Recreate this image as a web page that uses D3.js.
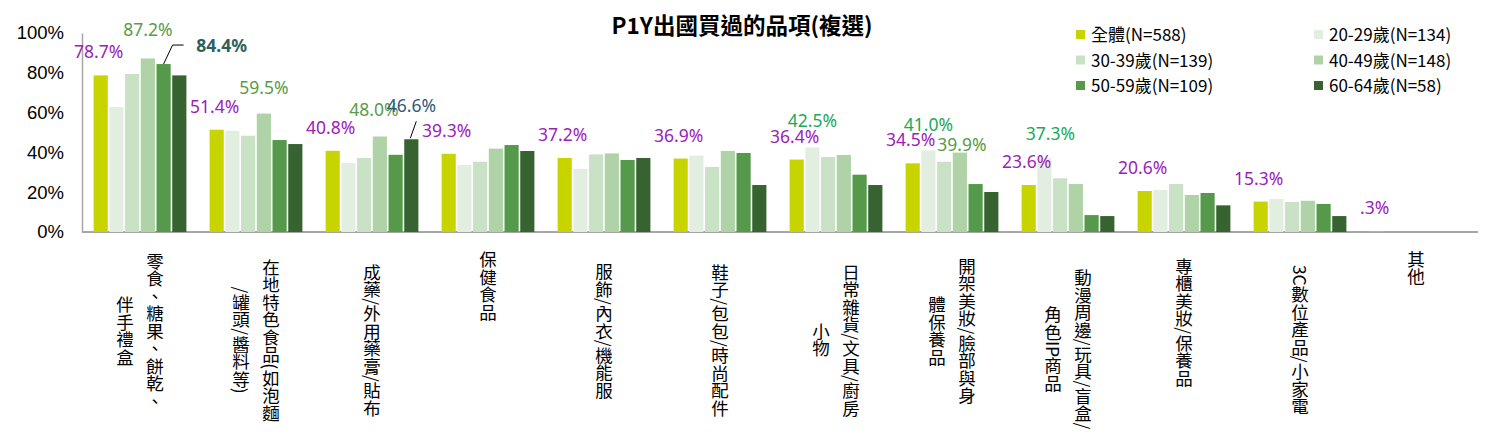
<!DOCTYPE html>
<html><head><meta charset="utf-8">
<script src="https://cdn.jsdelivr.net/npm/d3@7"></script>
<style>body{margin:0;background:#fff}</style>
</head><body><svg id="c" width="1507" height="437"></svg>
<script>
const categories = [
  ["零食、糖果、餅乾、","伴手禮盒"],
  ["在地特色食品(如泡麵","/罐頭/醬料等)"],
  ["成藥/外用藥膏/貼布"],
  ["保健食品"],
  ["服飾/內衣/機能服"],
  ["鞋子/包包/時尚配件"],
  ["日常雜貨/文具/廚房","小物"],
  ["開架美妝/臉部與身","體保養品"],
  ["動漫周邊/玩具/盲盒/","角色IP商品"],
  ["專櫃美妝/保養品"],
  ["3C數位產品/小家電"],
  ["其他"]
];
const seriesNames = ["全體(N=588)","20-29歲(N=134)","30-39歲(N=139)","40-49歲(N=148)","50-59歲(N=109)","60-64歲(N=58)"];
const sAll   = [78.7,51.4,40.8,39.3,37.2,36.9,36.4,34.5,23.6,20.6,15.3,0.3];
const s2029  = [62.8,50.9,34.7,33.7,31.7,38.4,42.5,41.0,37.3,21.1,16.6,0];
const s3039  = [79.4,48.4,37.2,35.3,39.0,32.7,37.7,35.3,27.0,24.1,15.1,0];
const s4049  = [87.2,59.5,48.0,41.9,39.5,40.7,38.7,39.9,24.1,18.6,15.7,0];
const s5059  = [84.4,46.2,38.8,43.7,36.2,39.7,28.8,24.1,8.5,19.6,14.1,0];
const s6064  = [78.7,44.2,46.6,40.7,37.2,23.6,23.6,20.1,8.0,13.4,8.0,0];
const yTicks = [0,20,40,60,80,100];
const series = [sAll,s2029,s3039,s4049,s5059,s6064];
const colors = ["#c8d400","#e2efe0","#c9e2c5","#afd3a7","#559a4b","#376331"];

// labels: [category index, series index, color, dx, dy, bold]
const labels = [];
sAll.forEach((v,i)=>labels.push([i,0,"#9b22b8",-2,-17,false]));
labels.push([0,3,"#5a9a4a",0,-22,false],[1,3,"#5a9a4a",0,-20,false],[2,3,"#5a9a4a",-6,-20,false],[7,3,"#5a9a4a",2,-2,false]);
labels.push([6,1,"#1aaa5a",0,-20,false],[7,1,"#1aaa5a",0,-19,false],[8,1,"#1aaa5a",6,-18,false]);
labels.push([0,4,"#2f5f5a",58,-12,true],[2,5,"#2e5a78",0,-27,false]);

const svg = d3.select("#c");
const L=82,R=1474,T=33,B=232;
const x = d3.scaleBand().domain(d3.range(categories.length)).range([L,R]).paddingInner(0.2).paddingOuter(0.1);
const xs = d3.scaleBand().domain(d3.range(6)).range([0,x.bandwidth()]).paddingInner(0.1);
const y = d3.scaleLinear().domain([0,100]).range([B,T]);

const ya = svg.append("g").attr("transform",`translate(${L},0)`)
  .call(d3.axisLeft(y).tickValues(yTicks).tickFormat(d=>d+"%").tickSize(0).tickPadding(18));
ya.select(".domain").attr("stroke","#a6a6a6").attr("stroke-width",1.5);
ya.selectAll("text").attr("font-family","Liberation Sans, Arial").attr("font-size",18.5).attr("fill","#000");
svg.append("line").attr("x1",L).attr("x2",R+4).attr("y1",B).attr("y2",B).attr("stroke","#a6a6a6").attr("stroke-width",2);

series.forEach((s,si)=>{
  svg.append("g").selectAll("rect").data(s).join("rect")
    .attr("x",(d,i)=>x(i)+xs(si)).attr("width",xs.bandwidth())
    .attr("y",d=>y(d)).attr("height",d=>B-y(d)).attr("fill",colors[si]);
});

const fmt = v => v<1 ? "."+Math.round(v*10)+"%" : v.toFixed(1)+"%";
labels.forEach(([ci,si,col,dx,dy,b])=>{
  const v=series[si][ci];
  const cx=x(ci)+xs(si)+xs.bandwidth()/2;
  svg.append("text").attr("x",cx+dx).attr("y",y(v)+dy)
    .attr("text-anchor","middle").attr("font-family","Noto Sans, Open Sans").attr("font-size",17.5)
    .attr("font-weight",b?"bold":"normal").attr("fill",col).text(fmt(v));
});
// leader lines
{ const cx=x(0)+xs(4)+xs.bandwidth()/2, ty=y(s5059[0]);
  svg.append("path").attr("d",`M${cx},${ty}L${cx+9},${ty-19}L${cx+20},${ty-19}`).attr("fill","none").attr("stroke","#000").attr("stroke-width",1);
  const cx2=x(2)+xs(5)+xs.bandwidth()/2, ty2=y(s6064[2]);
  svg.append("path").attr("d",`M${cx2-1},${ty2-1}L${cx2+5},${ty2-18}`).attr("fill","none").attr("stroke","#000").attr("stroke-width",1);
}

// category labels
categories.forEach((cols,i)=>{
  const cx=x(i)+x.bandwidth()/2;
  const maxLen=d3.max(cols,c=>c.length);
  const cy=250+maxLen*18/2;
  const n=cols.length;
  cols.forEach((c,k)=>{
    const off = n===1?0:(k===0?15:-15);
    svg.append("text").attr("x",cx+off).attr("y",cy)
      .attr("text-anchor","middle").style("writing-mode","vertical-rl")
      .attr("font-family","Noto Sans CJK TC").attr("font-size",17.5).attr("fill","#000").text(c);
  });
});

svg.append("text").attr("x",742).attr("y",34).attr("text-anchor","middle")
  .attr("font-family","Noto Sans CJK TC").attr("font-weight","bold").attr("font-size",22.5).text("P1Y出國買過的品項(複選)");

const lg = svg.append("g");
seriesNames.forEach((n,i)=>{
  const lx = i%2===0?1076:1314, ly = 35+Math.floor(i/2)*25.5;
  lg.append("rect").attr("x",lx).attr("y",ly-5).attr("width",9).attr("height",9).attr("fill",colors[i]);
  lg.append("text").attr("x",lx+15).attr("y",ly+6).attr("font-family","Noto Sans CJK TC").attr("font-size",17).attr("fill","#000").text(n);
});
</script></body></html>
